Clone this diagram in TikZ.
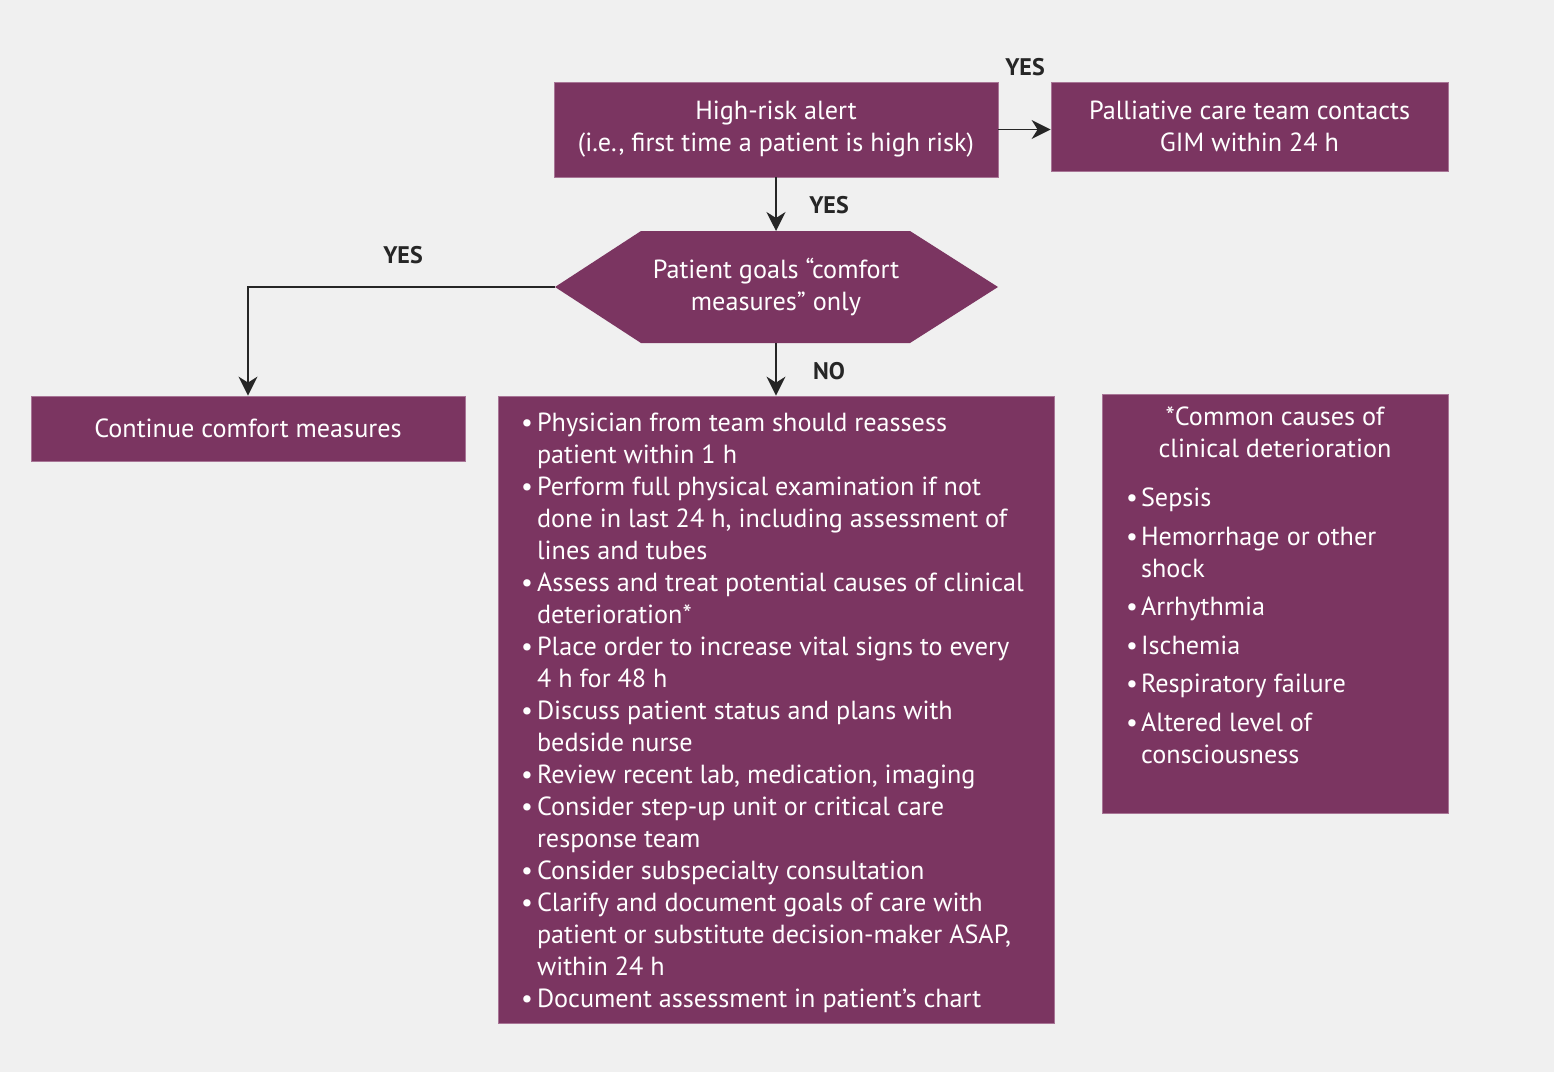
\documentclass[tikz,border=0pt]{standalone}
\usepackage{fontspec}
\setmainfont{PT Sans}
\usetikzlibrary{arrows.meta}
\definecolor{plum}{HTML}{7B3561}
\definecolor{plumedge}{HTML}{A87596}
\definecolor{bg}{HTML}{F0F0F0}
\definecolor{ink}{HTML}{262626}
\newcommand\bodyfont{\fontsize{26.2}{32}\selectfont}
\begin{document}
\begin{tikzpicture}[x=1pt,y=-1pt,
  box/.style={fill=plum, draw=plumedge, line width=0.8pt, text=white, inner sep=0pt, align=center, font=\bodyfont},
  wtext/.style={text=white, inner sep=0pt, font=\bodyfont},
  lbl/.style={font=\bfseries\fontsize{24}{28}\selectfont, text=ink, inner sep=0pt},
  arr/.style={draw=ink, line width=1.6pt, -{Stealth[length=19pt,width=19pt,inset=6pt]}}]
\fill[bg] (0,0) rectangle (1554,1072);
\useasboundingbox (0,0) rectangle (1554,1072);

% high-risk alert
\node[box, minimum width=444, minimum height=95] (alert) at (776,129.5)
  {High-risk alert\\(i.e., first time a patient is high risk)};
\node[box, minimum width=397, minimum height=89] (pal) at (1249.5,126.5)
  {Palliative care team contacts\\GIM within 24 h};

% hexagon decision
\coordinate (goalW) at (555,287);
\coordinate (goalN) at (776,231);
\coordinate (goalS) at (776,343);
\coordinate (goalE) at (998,287);
\fill[plum] (goalW) -- (641,231) -- (910,231) -- (goalE) -- (910,343) -- (641,343) -- cycle;
\node[wtext, align=center] (goal) at (776,287) {Patient goals “comfort\\measures” only};

% continue comfort
\node[box, minimum width=434, minimum height=65] (cont) at (248,428.5) {Continue comfort measures};

% plan box
\node[box, minimum width=556, minimum height=627] (plan) at (776,709.5) {};
\node[wtext, anchor=north west] (plantext) at (521,409) {%
\begin{tabular}{@{}l@{\hspace{4pt}}l@{}}
• & Physician from team should reassess\\
  & patient within 1 h\\
• & Perform full physical examination if not\\
  & done in last 24 h, including assessment of\\
  & lines and tubes\\
• & Assess and treat potential causes of clinical\\
  & deterioration*\\
• & Place order to increase vital signs to every\\
  & 4 h for 48 h\\
• & Discuss patient status and plans with\\
  & bedside nurse\\
• & Review recent lab, medication, imaging\\
• & Consider step-up unit or critical care\\
  & response team\\
• & Consider subspecialty consultation\\
• & Clarify and document goals of care with\\
  & patient or substitute decision-maker ASAP,\\
  & within 24 h\\
• & Document assessment in patient’s chart
\end{tabular}};

% causes box
\node[box, minimum width=346, minimum height=419] (causes) at (1275,603.5) {};
\node[wtext, align=center] (ctitle) at (1275,432) {*Common causes of\\clinical deterioration};
\node[wtext, anchor=north west] (citems) at (1126,484) {%
\begin{tabular}{@{}l@{\hspace{3pt}}l@{}}
• & Sepsis\\[6.5pt]
• & Hemorrhage or other\\
  & shock\\[6.5pt]
• & Arrhythmia\\[6.5pt]
• & Ischemia\\[6.5pt]
• & Respiratory failure\\[6.5pt]
• & Altered level of\\
  & consciousness
\end{tabular}};

% connectors
\draw[arr] (alert.east) -- (alert.east -| pal.west);
\draw[arr] (alert.south) -- (goalN);
\draw[arr] (goalW) -| (cont.north);
\draw[arr] (goalS) -- (plan.north);

% labels
\node[lbl] (yes1) at (1025,67) {YES};
\node[lbl] (yes2) at (829,205) {YES};
\node[lbl] (yes3) at (403,255) {YES};
\node[lbl] (no1) at (829,371) {NO};
\end{tikzpicture}
\end{document}
